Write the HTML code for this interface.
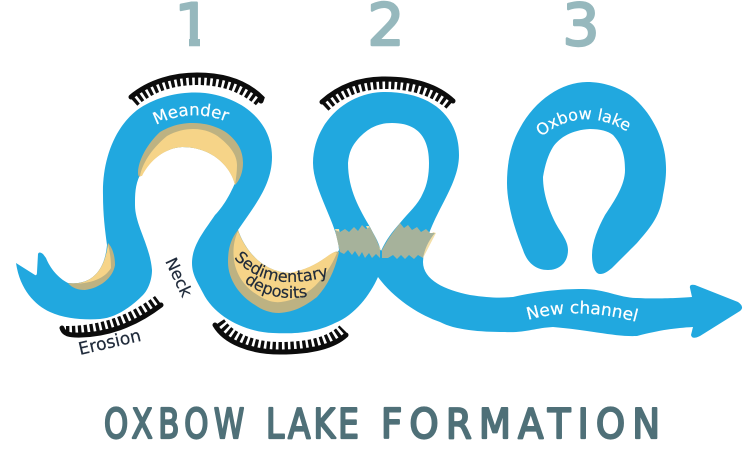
<!DOCTYPE html>
<html><head><meta charset="utf-8"><style>
html,body{margin:0;padding:0;background:#fff}
svg{display:block}
text{font-family:"DejaVu Sans","Liberation Sans",sans-serif}
.h{stroke-linejoin:round;stroke-linecap:round}
</style></head><body>
<svg width="751" height="465" viewBox="0 0 751 465" xmlns="http://www.w3.org/2000/svg">
<!-- river -->
<path fill="#21a8df" fill-rule="evenodd" d="M16 263 L35 275 Q37 276 37 272 L38 254 Q39 251 43 254 L46 258 C50 268 58 278 68 283 C85 285 104 278 107 245 C105 230 103 215 103 195 C102 160 115 125 140 108 C160 95 185 91 205 93 C240 97 272 120 272 157 C272 185 255 205 238 230 C245 250 262 272 290 273 C310 273 325 262 337 253 L339 250 C338 225 313 190 313 163 C313 125 345 92 385 92 C430 92 459 115 459 155 C459 190 425 220 423 262 C423 280 445 290 470 295 C490 298 500 298 513 297 C540 291 560 289 583 289 C605 289 620 298 637 298 C655 299 680 298 692 297 L690 288 Q689 284 695 285 L738 302 Q745 307 740 311 L700 336 Q692 340 691 335 L693 327 C675 328 660 330 637 336 C615 337 590 330 553 327 C535 328 525 333 505 332 C480 332 455 330 440 322 C420 315 395 300 378 277 C370 295 355 315 335 323 C315 333 295 334 273 333 C245 332 215 317 203 293 C198 283 192 275 192 263 C192 245 205 230 215 215 C225 205 232 190 235 183 C232 170 215 147 182 147 C165 148 148 160 140 175 C135 185 135 195 135 205 C135 225 150 245 152 270 C152 280 148 290 143 295 C130 308 115 318 100 319 C85 320 65 319 50 312 C35 305 20 290 16 263 Z
M348 163 C349 152 352 146 358 139 C368 128 378 123 392 123 C420 123 429 140 429 163 C429 175 427 185 423 193 C418 205 408 213 400 223 C392 232 386 240 381 251 C378 240 374 235 370 227 C360 210 348 190 348 163 Z"/>
<!-- top sediment -->
<path fill="#bdb282" d="M138 173 C138 160 148 143 160 132 C172 125 182 123 193 123 C208 123 220 128 227 133 C237 141 243 150 243 163 C243 172 240 180 235 185 C232 170 215 147 182 147 C165 148 150 160 141 176 Q138 178 138 173 Z"/>
<path fill="#f6d488" d="M140 176 C142 165 150 150 167 136 C176 131 185 129 193 129 C205 129 214 133 220 138 C230 146 237 155 237 165 C237 172 236 178 235 185 C232 170 215 147 182 147 C165 148 150 160 142 176 Z"/>
<!-- left sediment -->
<path fill="#bdb282" d="M68 283 C85 285 104 278 108 243 C112 247 115 255 115 265 C113 278 100 288 85 290 C78 290 72 288 68 283 Z"/>
<path fill="#f6d488" d="M68 284 C85 285 104 278 108 244 C110 252 111 260 111 268 C105 278 92 284 70 284 Z"/>
<!-- lower sediment -->
<path fill="#bdb282" d="M238 230 C230 240 228 250 228 262 C228 280 240 296 255 305 C262 310 270 313 279 313 C295 312 305 306 317 297 C328 285 335 270 339 252 C335 250 332 254 325 258 C315 265 305 270 290 273 C262 272 245 250 238 230 Z"/>
<path fill="#f6d488" d="M238 231 C233 242 233 252 234 260 C236 275 245 287 256 294 C265 300 272 303 281 302 C295 300 305 295 315 286 C325 276 332 265 337 253 Q335 250 325 258 C315 265 305 270 290 273 C262 272 245 250 238 231 Z"/>
<!-- grey bands -->
<path fill="#f3dfa9" d="M335 229 L340 252 L343 250 L339 229 Z M423 258 L436 233 L433 232 L421 256 Z M369 226 L381 250 L378 250 L366 226 Z"/>
<path fill="#a6b29b" d="M335 230 L340 232 L345 229 L349 232 L354 227 L358 231 L362 225 L366 229 L370 227 C374 235 378 241 380 250 L380 258 L376 254 L372 258 L369 253 L365 258 L362 252 L359 257 L355 251 L352 255 L348 250 L344 254 L340 252 Z"/>
<path fill="#a6b29b" d="M382 250 C387 240 393 232 400 223 L404 228 L408 225 L412 230 L417 227 L421 232 L426 229 L430 233 L435 233 C429 240 425 248 423 258 L418 255 L414 259 L409 255 L405 259 L401 255 L397 259 L393 255 L388 258 L382 258 Z"/>
<!-- lake -->
<path fill="#21a8df" d="M587 82 C562 82 535 100 520 128 C510 145 507 165 507 183 C507 205 515 230 523 250 C527 262 535 270 548 270 C560 270 568 262 568 250 C568 240 560 232 555 222 C550 212 543 195 543 177 C545 165 548 155 553 147 C560 137 572 130 590 129 C600 129 608 131 613 135 C622 145 625 155 625 170 C625 185 615 200 605 215 C598 228 592 242 592 255 C592 268 596 274 600 274 C605 274 608 271 612 268 C622 258 630 250 637 243 C648 230 660 218 663 195 C666 180 667 170 665 155 C662 135 650 110 630 95 C618 87 603 82 587 82 Z"/>
<!-- hachures -->
<g fill="none" stroke="#0c0c0c" stroke-linecap="round">
<path stroke-width="5" d="M131 97 C150 81 175 75 197 75 C225 75 247 83 262 98 L261 101"/>
<path stroke-width="10" stroke-linecap="butt" stroke-dasharray="3.4 2.6" d="M134 102 C152 86 175 80 197 80 C224 80 244 88 261 103"/>
<path stroke-width="5" d="M322 102 C340 86 360 79 385 79 C415 79 438 87 453 101"/>
<path stroke-width="10" stroke-linecap="butt" stroke-dasharray="3.4 2.6" d="M325 107 C342 91 362 84 385 84 C413 84 436 92 451 106"/>
<path stroke-width="5" d="M215 325 C225 342 250 352 280 352 C310 352 333 347 346 335"/>
<path stroke-width="10" stroke-linecap="butt" stroke-dasharray="3.4 2.6" d="M220 322 C230 337 252 347 280 347 C308 347 330 342 343 329"/>
<path stroke-width="5" d="M62 328 Q64 335 75 335 C105 336 135 325 161 305"/>
<path stroke-width="10" stroke-linecap="butt" stroke-dasharray="3.4 2.6" d="M66 331 C100 331 130 321 158 300"/>
</g>
<defs>
<path id="p1" d="M156 125 Q195 105 236 126"/>
<path id="p2" d="M541 137 Q586 100 640 140"/>
<path id="p3" d="M528 320 Q580 305 644 324"/>
<path id="p4" d="M234 258 Q266 294 330 276"/>
<path id="p5" d="M244 282 Q275 305 314 295"/>
</defs>
<g fill="#fff" stroke="#fff" stroke-width=".2">
<text font-size="16.6"><textPath href="#p1">Meander</textPath></text>
<text font-size="16"><textPath href="#p2">Oxbow lake</textPath></text>
<text font-size="17"><textPath href="#p3">New channel</textPath></text>
</g>
<g fill="#1f2a3a" stroke="#1f2a3a" stroke-width=".2">
<text font-size="16"><textPath href="#p4">Sedimentary</textPath></text>
<text font-size="16"><textPath href="#p5">deposits</textPath></text>
<text font-size="17.3" transform="translate(80 355) rotate(-13)">Erosion</text>
<text font-size="16.5" transform="translate(165 261) rotate(65)">Neck</text>
</g>
<!-- numbers -->
<g class="h" fill="#96b8bd" stroke="#96b8bd" stroke-width="2.4" font-size="58" text-anchor="middle" style="font-family:'Liberation Sans',sans-serif">
<text x="193" y="45">1</text>
<text x="386" y="45">2</text>
<text x="581" y="45">3</text>
</g>
<!-- hide the foot of the 1 -->
<rect x="172" y="37" width="17" height="13" fill="#fff"/>
<rect x="200" y="37" width="17" height="13" fill="#fff"/>
<g class="h" font-size="41" fill="#4f7078" stroke="#4f7078" stroke-width="2.2" lengthAdjust="spacing" style="font-family:'Liberation Sans',sans-serif">
<text transform="translate(104 438) scale(.75 1)" textLength="187">OXBOW</text>
<text transform="translate(266 438) scale(.8 1)" textLength="116">LAKE</text>
<text transform="translate(381 438) scale(.9 1)" textLength="310">FORMATION</text>
</g>
</svg>
</body></html>
